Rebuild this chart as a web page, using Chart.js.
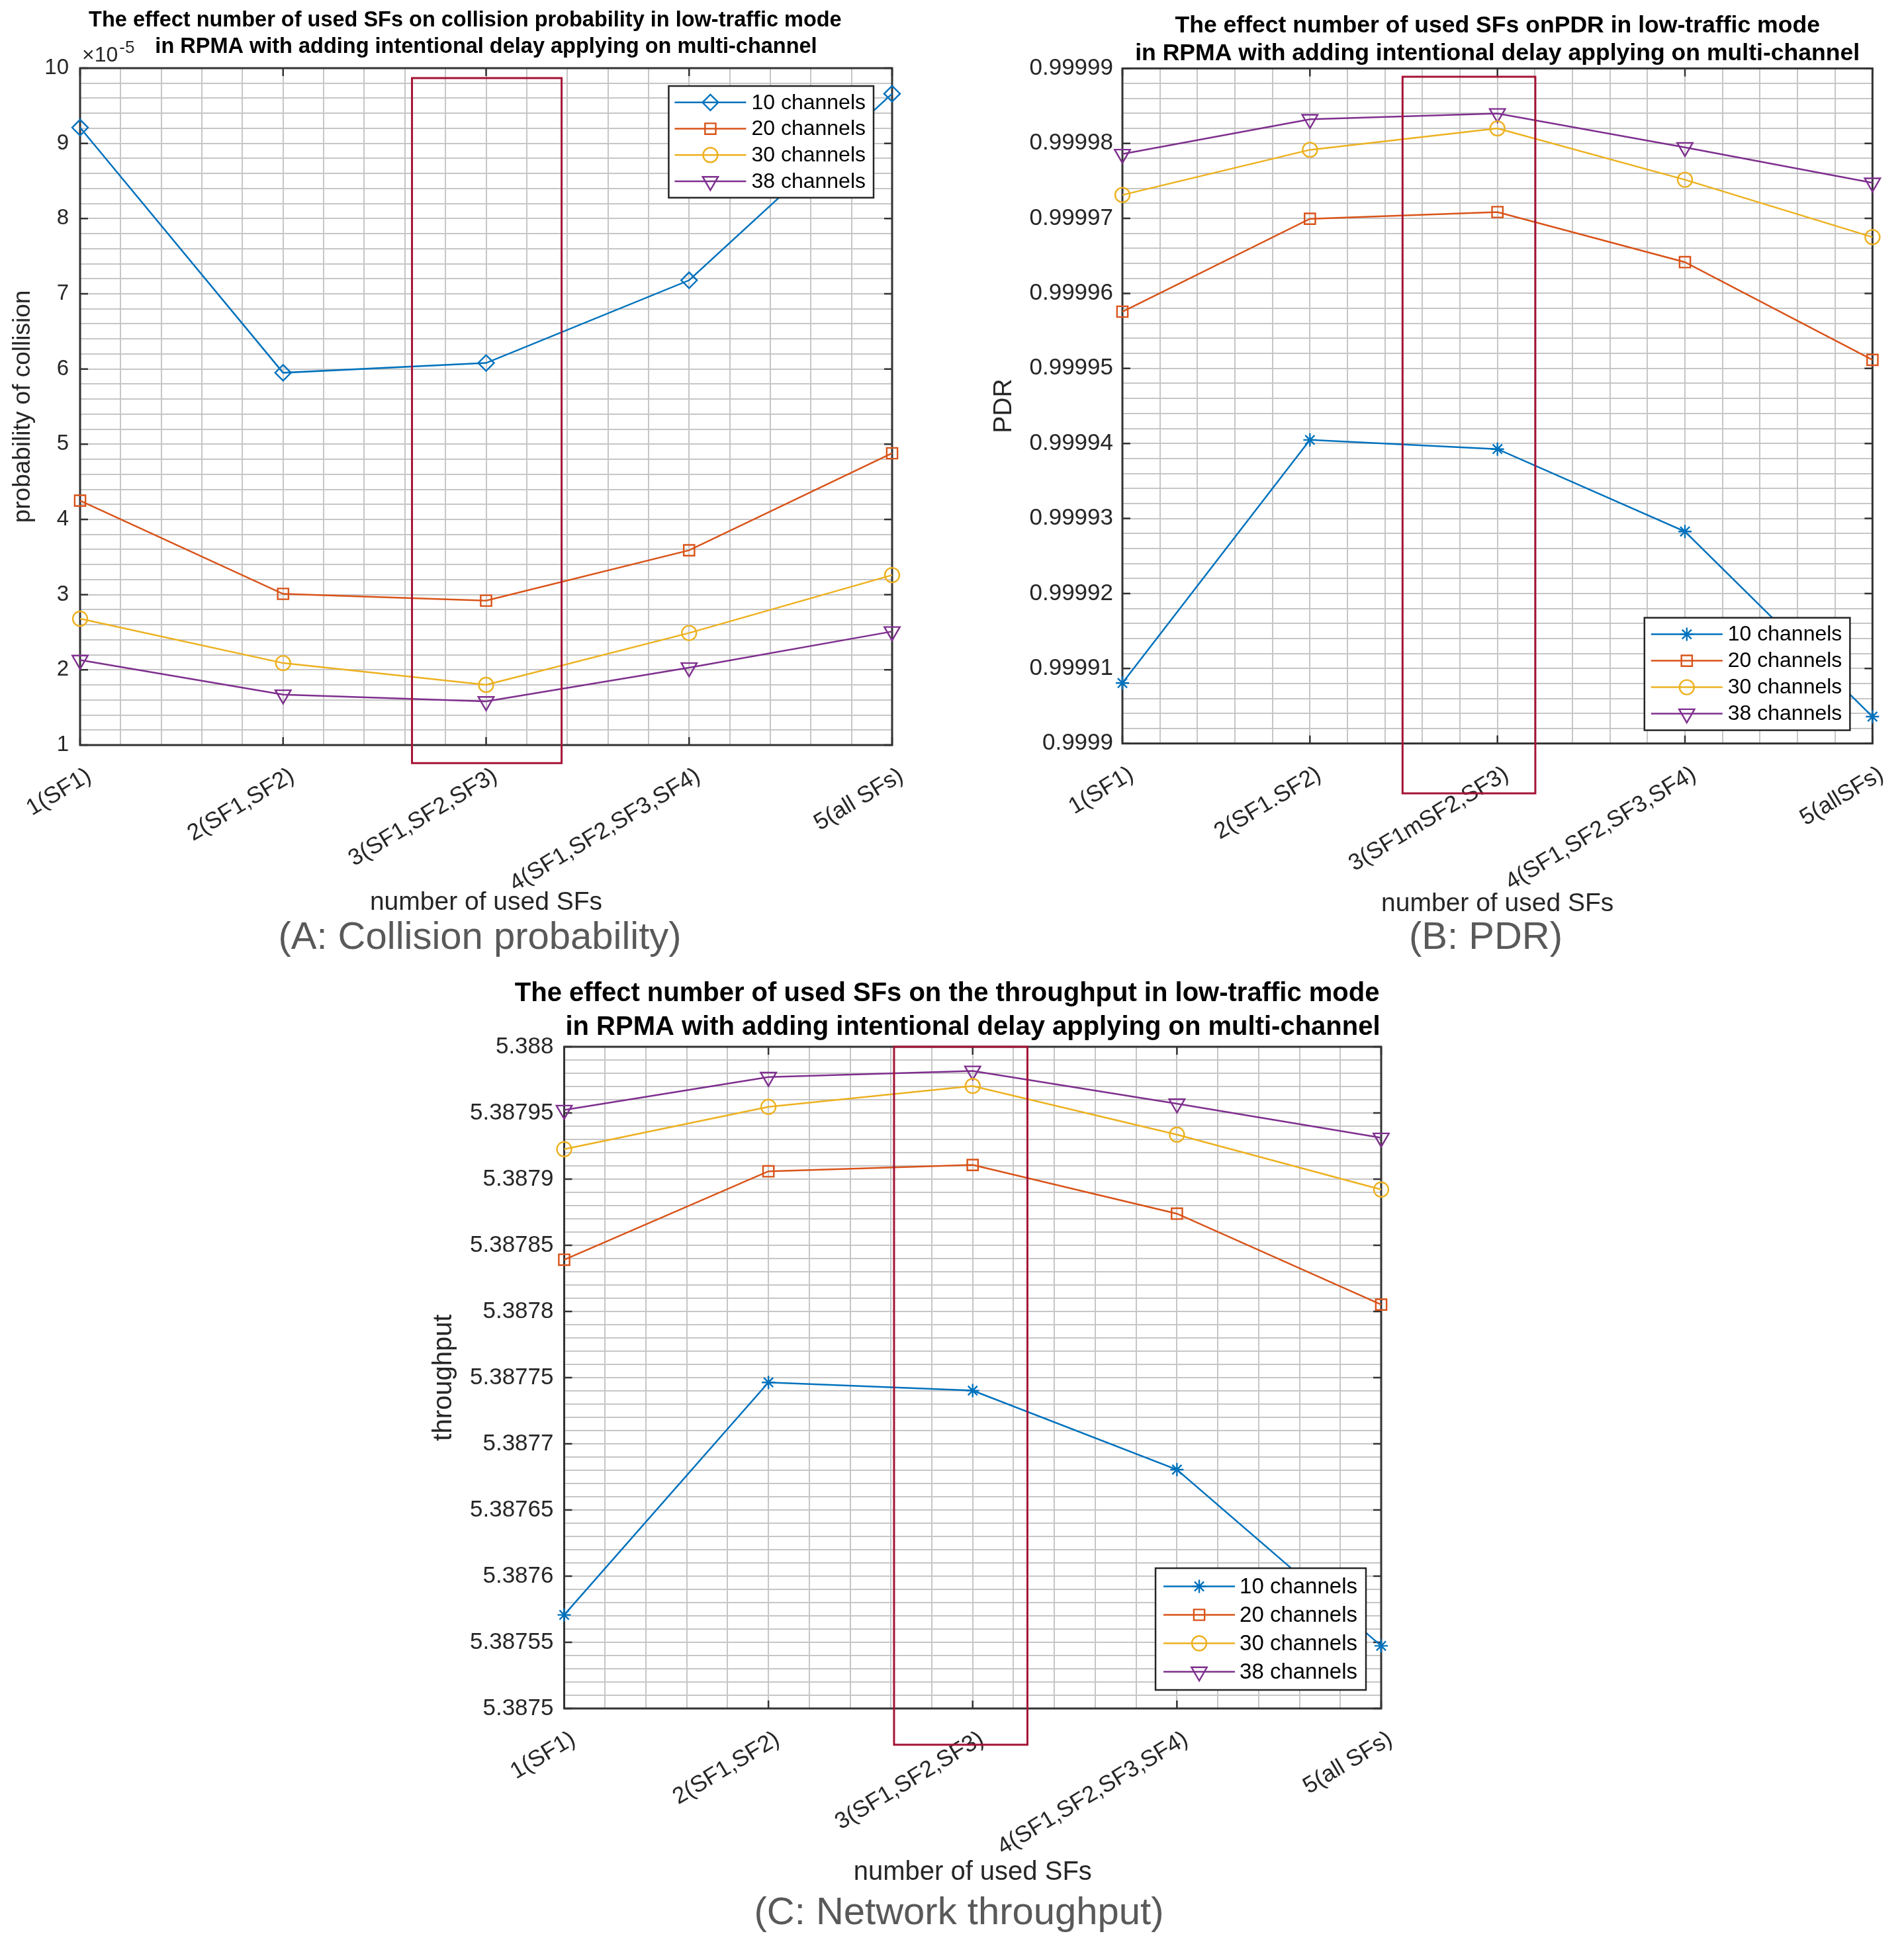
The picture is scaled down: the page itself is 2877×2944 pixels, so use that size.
<!DOCTYPE html>
<html>
<head>
<meta charset="utf-8">
<script src="https://cdn.jsdelivr.net/npm/chart.js@4.4.1/dist/chart.umd.min.js"></script>
<style>
  html, body { margin: 0; padding: 0; background: #fff; width: 2877px; height: 2944px; overflow: hidden; }
  canvas { position: absolute; }
  .caption {
    position: absolute; transform: translateX(-50%); white-space: nowrap;
    font-family: 'Liberation Sans', Arial, sans-serif; font-size: 58px; line-height: 58px; color: #595959;
  }
</style>
</head>
<body>
<canvas id="chartA" width="1440" height="1388" style="left:0;top:0"></canvas>
<canvas id="chartB" width="1437" height="1390" style="left:1440px;top:0"></canvas>
<canvas id="chartC" width="1740" height="1404" style="left:600px;top:1450px"></canvas>
<div class="caption" style="left:725px;top:1385px">(A: Collision probability)</div>
<div class="caption" style="left:2245px;top:1385px">(B: PDR)</div>
<div class="caption" style="left:1449px;top:2859px">(C: Network throughput)</div>

<script>
const FONT = "'Liberation Sans', Arial, sans-serif";
const INK = '#262626';
const GRID = '#c6c6c6';
const seriesColors = ['#0072BD', '#D95319', '#EDB120', '#7E2F8E'];

// x positions and their labels (B has its own spelling of the labels)
const sfPositions = [1, 2, 3, 4, 5];
const sfLabels = ['1(SF1)', '2(SF1,SF2)', '3(SF1,SF2,SF3)', '4(SF1,SF2,SF3,SF4)', '5(all SFs)'];
const sfLabelsPdr = ['1(SF1)', '2(SF1.SF2)', '3(SF1mSF2,SF3)', '4(SF1,SF2,SF3,SF4)', '5(allSFs)'];
const channels = ['10 channels', '20 channels', '30 channels', '38 channels'];

// (A) probability of collision, in units of 1e-5
const collision10 = [9.21, 5.95, 6.08, 7.18, 9.66];
const collision20 = [4.25, 3.01, 2.92, 3.59, 4.88];
const collision30 = [2.68, 2.09, 1.80, 2.49, 3.26];
const collision38 = [2.13, 1.67, 1.58, 2.03, 2.51];

// (B) PDR
const pdr10 = [0.99990806, 0.99994047, 0.99993925, 0.99992826, 0.99990358];
const pdr20 = [0.99995757, 0.99996995, 0.99997085, 0.99996417, 0.99995114];
const pdr30 = [0.99997313, 0.99997915, 0.99998200, 0.99997516, 0.99996751];
const pdr38 = [0.99997858, 0.99998322, 0.99998400, 0.99997948, 0.99997475];

// (C) throughput
const thr10 = [5.38757068, 5.38774640, 5.38774020, 5.38768050, 5.38754730];
const thr20 = [5.38783910, 5.38790590, 5.38791070, 5.38787390, 5.38780520];
const thr30 = [5.38792260, 5.38795460, 5.38797040, 5.38793360, 5.38789210];
const thr38 = [5.38795220, 5.38797710, 5.38798180, 5.38795700, 5.38793120];

// major y ticks
const yTicksCollision = [1, 2, 3, 4, 5, 6, 7, 8, 9, 10];
const yTicksPdr = [0.9999, 0.99991, 0.99992, 0.99993, 0.99994, 0.99995, 0.99996, 0.99997, 0.99998, 0.99999];
const yTicksThroughput = [5.3875, 5.38755, 5.3876, 5.38765, 5.3877, 5.38775, 5.3878, 5.38785, 5.3879, 5.38795, 5.388];

// marker looks
const DIAMOND = { style: 'rectRot', r: 12 };
const SQUARE = { style: 'rect', r: 11.5 };
const CIRCLE = { style: 'circle', r: 11 };
const TRIANGLE = { style: 'triangle', r: 13.5, rot: 180 };
const STAR = { style: 'star', r: 10 };

// major ticks plus 4 minor ones between each pair (matlab "grid minor")
function minorTicks(majors, parts) {
  const out = [];
  majors.forEach((v, i) => {
    out.push({ value: v, isMajor: true });
    if (i < majors.length - 1) {
      for (let k = 1; k < parts; k++) {
        out.push({ value: v + (majors[i + 1] - v) * k / parts, isMajor: false });
      }
    }
  });
  return out;
}

function lineSet(label, values, color, m) {
  return {
    label: label,
    data: values.map((v, i) => ({ x: sfPositions[i], y: v })),
    borderColor: color,
    backgroundColor: color,
    borderWidth: 2.5,
    pointStyle: m.style,
    pointRotation: m.rot || 0,
    pointRadius: m.r,
    pointBorderWidth: 2.4,
    pointBorderColor: color,
    pointBackgroundColor: 'rgba(0,0,0,0)',
    clip: false
  };
}

// axes box with inward tick marks
const axesBox = {
  id: 'axesBox',
  beforeDatasetsDraw(chart) {
    const { ctx, chartArea: a, scales: { x, y } } = chart;
    ctx.save();
    ctx.strokeStyle = '#333';
    ctx.lineWidth = 2.5;
    ctx.beginPath();
    const len = 12;
    x.ticks.forEach(t => {
      if (!t.isMajor) return;
      const px = x.getPixelForValue(t.value);
      ctx.moveTo(px, a.bottom); ctx.lineTo(px, a.bottom - len);
      ctx.moveTo(px, a.top); ctx.lineTo(px, a.top + len);
    });
    y.ticks.forEach(t => {
      if (!t.isMajor) return;
      const py = y.getPixelForValue(t.value);
      ctx.moveTo(a.left, py); ctx.lineTo(a.left + len, py);
      ctx.moveTo(a.right, py); ctx.lineTo(a.right - len, py);
    });
    ctx.stroke();
    ctx.lineWidth = 3;
    ctx.strokeRect(a.left, a.top, a.right - a.left, a.bottom - a.top);
    ctx.restore();
  }
};

// the red highlight box, given in data units
const highlightBox = {
  id: 'highlightBox',
  afterDatasetsDraw(chart, args, o) {
    if (!o || o.x0 === undefined) return;
    const { ctx, scales: { x, y } } = chart;
    const l = x.getPixelForValue(o.x0), r = x.getPixelForValue(o.x1);
    const t = y.getPixelForValue(o.y1), b = y.getPixelForValue(o.y0);
    ctx.save();
    ctx.strokeStyle = '#A51435';
    ctx.lineWidth = 3;
    ctx.strokeRect(l, t, r - l, b - t);
    ctx.restore();
  }
};

// matlab style legend: framed box, line with marker, label
const boxLegend = {
  id: 'boxLegend',
  afterDatasetsDraw(chart, args, o) {
    const { ctx, chartArea: a } = chart;
    const sets = chart.data.datasets;
    ctx.save();
    ctx.font = o.fontSize + 'px ' + FONT;
    const textW = Math.max(...sets.map(d => ctx.measureText(d.label).width));
    const w = o.padLeft + o.lineLen + o.gap + textW + o.padRight;
    const h = o.padTop * 2 + sets.length * o.rowH;
    const bx = a.right - o.right - w;
    const by = o.corner === 'top' ? a.top + o.top : a.bottom - o.bottom - h;
    ctx.fillStyle = '#fff';
    ctx.fillRect(bx, by, w, h);
    ctx.strokeStyle = INK;
    ctx.lineWidth = 2.5;
    ctx.strokeRect(bx, by, w, h);
    sets.forEach((d, i) => {
      const cy = by + o.padTop + o.rowH * (i + 0.5);
      const x0 = bx + o.padLeft, x1 = x0 + o.lineLen;
      ctx.strokeStyle = d.borderColor;
      ctx.lineWidth = d.borderWidth;
      ctx.beginPath();
      ctx.moveTo(x0, cy); ctx.lineTo(x1, cy);
      ctx.stroke();
      ctx.fillStyle = 'rgba(0,0,0,0)';
      ctx.lineWidth = d.pointBorderWidth;
      Chart.helpers.drawPoint(ctx, {
        pointStyle: d.pointStyle, rotation: d.pointRotation, radius: d.pointRadius, borderWidth: d.pointBorderWidth
      }, (x0 + x1) / 2, cy);
      ctx.fillStyle = '#000';
      ctx.textBaseline = 'middle';
      ctx.textAlign = 'left';
      ctx.fillText(d.label, x1 + o.gap, cy + 1);
    });
    ctx.restore();
  }
};

// "x10^-5" multiplier above the y axis
const exponentLabel = {
  id: 'exponentLabel',
  afterDraw(chart, args, o) {
    if (!o || !o.base) return;
    const { ctx, chartArea: a } = chart;
    ctx.save();
    ctx.fillStyle = INK;
    ctx.textBaseline = 'alphabetic';
    ctx.textAlign = 'left';
    ctx.font = o.size + 'px ' + FONT;
    const x = a.left + o.dx, y = a.top - o.dy;
    ctx.fillText(o.base, x, y);
    const w = ctx.measureText(o.base).width;
    ctx.font = o.supSize + 'px ' + FONT;
    ctx.fillText(o.sup, x + w + 2, y - o.raise);
    ctx.restore();
  }
};

function buildChart(id, cfg) {
  const yMajors = cfg.yTicks;
  const grid = { color: GRID, lineWidth: 2, drawTicks: false };
  const scales = {
    x: {
      type: 'linear', position: 'bottom',
      min: sfPositions[0], max: sfPositions[sfPositions.length - 1],
      afterBuildTicks: s => { s.ticks = minorTicks(sfPositions, 5); },
      afterFit: s => { s.height = cfg.xHeight; },
      grid: grid,
      border: { display: false },
      ticks: {
        autoSkip: false, maxRotation: 31, minRotation: 31,
        padding: 26, labelOffset: 14, color: INK,
        font: { family: FONT, size: 35 },
        callback: (v, i, t) => t[i].isMajor ? cfg.xLabels[sfPositions.indexOf(Math.round(v))] : ''
      },
      title: {
        display: true, text: 'number of used SFs', color: INK,
        font: { family: FONT, size: cfg.xTitleSize, lineHeight: 1.2 },
        padding: { top: 0, bottom: 0 }
      }
    },
    y: {
      type: 'linear', position: 'left',
      min: yMajors[0], max: yMajors[yMajors.length - 1],
      afterBuildTicks: s => { s.ticks = minorTicks(yMajors, 5); },
      afterFit: s => { s.width = cfg.yWidth; },
      grid: grid,
      border: { display: false },
      ticks: {
        autoSkip: false, padding: cfg.yTickPad, color: INK,
        font: { family: FONT, size: cfg.yTickSize },
        callback: (v, i, t) => t[i].isMajor ? String(v) : ''
      },
      title: {
        display: true, text: cfg.yTitle, color: INK,
        font: { family: FONT, size: cfg.yTitleSize, lineHeight: 1.2 },
        padding: { top: cfg.yTitlePad, bottom: 0 }
      }
    }
  };
  if (cfg.mirrorWidth) {
    // empty right axis so the full-width title stays centred on the plot
    scales.yRight = {
      type: 'linear', position: 'right', display: true,
      grid: { display: false }, border: { display: false }, ticks: { display: false },
      afterFit: s => { s.width = cfg.mirrorWidth; }
    };
  }
  return new Chart(document.getElementById(id), {
    type: 'line',
    data: { datasets: cfg.datasets },
    options: {
      responsive: false,
      animation: false,
      events: [],
      layout: { padding: cfg.padding },
      plugins: {
        legend: { display: false },
        tooltip: { enabled: false },
        title: {
          display: true, text: cfg.title, color: '#000', fullSize: cfg.titleFull,
          font: { family: FONT, size: cfg.titleSize, weight: 'bold', lineHeight: cfg.titleLine / cfg.titleSize },
          padding: cfg.titlePad
        },
        boxLegend: cfg.legend,
        highlightBox: cfg.box,
        exponentLabel: cfg.exponent || {}
      },
      scales: scales
    },
    plugins: [axesBox, highlightBox, boxLegend, exponentLabel]
  });
}

buildChart('chartA', {
  datasets: [
    lineSet(channels[0], collision10, seriesColors[0], DIAMOND),
    lineSet(channels[1], collision20, seriesColors[1], SQUARE),
    lineSet(channels[2], collision30, seriesColors[2], CIRCLE),
    lineSet(channels[3], collision38, seriesColors[3], TRIANGLE)
  ],
  xLabels: sfLabels,
  yTicks: yTicksCollision,
  yTitle: 'probability of collision',
  title: ['The effect number of used SFs on collision probability in low-traffic mode       ',
          'in RPMA with adding intentional delay applying on multi-channel'],
  titleFull: false, titleSize: 32.5, titleLine: 40, titlePad: { top: 11, bottom: 12 },
  padding: { left: 0, right: 92, top: 0, bottom: 0 },
  yWidth: 121, yTickSize: 33, yTickPad: 17, yTitleSize: 37, yTitlePad: 13,
  xHeight: 262, xTitleSize: 39,
  legend: { corner: 'top', right: 28, top: 27, fontSize: 32, rowH: 39.7, padTop: 5, padLeft: 9, lineLen: 108, gap: 8, padRight: 12 },
  box: { x0: 2.635, x1: 3.372, y0: 0.76, y1: 9.868 },
  exponent: { base: '\u00d710', sup: '-5', size: 32, supSize: 26, raise: 13, dx: 3, dy: 10 }
});

buildChart('chartB', {
  datasets: [
    lineSet(channels[0], pdr10, seriesColors[0], STAR),
    lineSet(channels[1], pdr20, seriesColors[1], SQUARE),
    lineSet(channels[2], pdr30, seriesColors[2], CIRCLE),
    lineSet(channels[3], pdr38, seriesColors[3], TRIANGLE)
  ],
  xLabels: sfLabelsPdr,
  yTicks: yTicksPdr,
  yTitle: 'PDR',
  title: ['The effect number of used SFs onPDR in low-traffic mode',
          'in RPMA with adding intentional delay applying on multi-channel'],
  titleFull: false, titleSize: 35.6, titleLine: 42.7, titlePad: { top: 17.6, bottom: 0.4 },
  padding: { left: 0, right: 24.5, top: 0, bottom: 0 },
  yWidth: 256, yTickSize: 35, yTickPad: 14, yTitleSize: 39, yTitlePad: 54,
  xHeight: 266.4, xTitleSize: 39,
  legend: { corner: 'bottom', right: 34, bottom: 20, fontSize: 32, rowH: 40, padTop: 5, padLeft: 10, lineLen: 108, gap: 8, padRight: 12 },
  box: { x0: 2.494, x1: 3.202, y0: 0.99989335, y1: 0.99998889 }
});

buildChart('chartC', {
  datasets: [
    lineSet(channels[0], thr10, seriesColors[0], STAR),
    lineSet(channels[1], thr20, seriesColors[1], SQUARE),
    lineSet(channels[2], thr30, seriesColors[2], CIRCLE),
    lineSet(channels[3], thr38, seriesColors[3], TRIANGLE)
  ],
  xLabels: sfLabels,
  yTicks: yTicksThroughput,
  yTitle: 'throughput',
  title: ['The effect number of used SFs on the throughput in low-traffic mode       ',
          'in RPMA with adding intentional delay applying on multi-channel'],
  titleFull: true, titleSize: 40, titleLine: 51, titlePad: { top: 26.5, bottom: 3.5 },
  padding: { left: 0, right: 0, top: 0, bottom: 0 },
  mirrorWidth: 253,
  yWidth: 252.5, yTickSize: 35, yTickPad: 16, yTitleSize: 40, yTitlePad: 47,
  xHeight: 272, xTitleSize: 40,
  legend: { corner: 'bottom', right: 23, bottom: 28, fontSize: 33, rowH: 43, padTop: 6, padLeft: 12, lineLen: 108, gap: 7, padRight: 13 },
  box: { x0: 2.615, x1: 3.268, y0: 5.3874726, y1: 5.388 }
});
</script>
</body>
</html>
